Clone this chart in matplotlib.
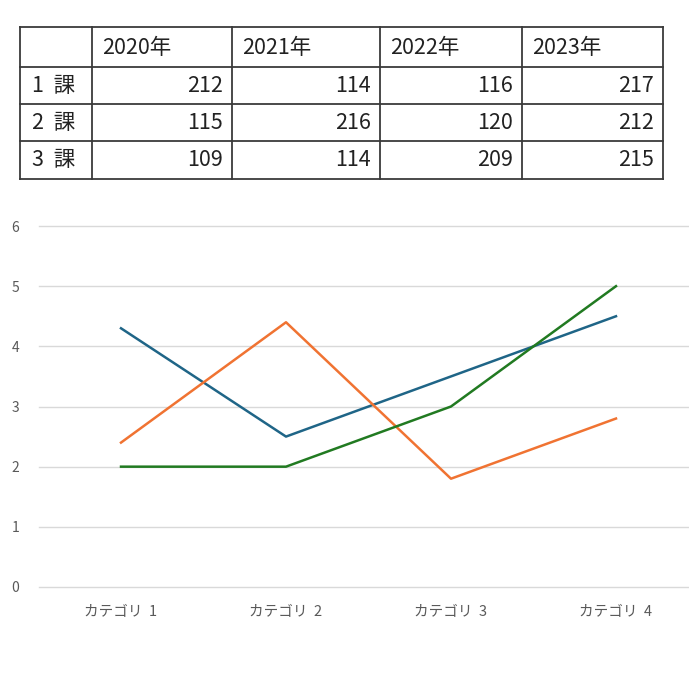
import numpy as np
import matplotlib.pyplot as plt

plt.rcParams['font.family'] = ['Noto Sans CJK JP', 'DejaVu Sans']

# table data
years = ['2020年', '2021年', '2022年', '2023年']
sections = ['1 課', '2 課', '3 課']
table_values = [[212, 114, 116, 217],
                [115, 216, 120, 212],
                [109, 114, 209, 215]]

# chart data
categories = ['カテゴリ 1', 'カテゴリ 2', 'カテゴリ 3', 'カテゴリ 4']
series1 = [4.3, 2.5, 3.5, 4.5]
series2 = [2.4, 4.4, 1.8, 2.8]
series3 = [2, 2, 3, 5]

W, H = 689, 685
fig = plt.figure(figsize=(W / 100, H / 100), dpi=100)

# table drawn in pixel space
tax = fig.add_axes([0, 0, 1, 1])
tax.set_xlim(0, W)
tax.set_ylim(H, 0)
tax.axis('off')
col_edges = [20, 92, 232, 380, 522, 663]
row_edges = [27, 67, 104, 141, 179]
lc = '#3a3a3a'
for x in col_edges:
    tax.plot([x, x], [row_edges[0], row_edges[-1]], color=lc, lw=1.3)
for y in row_edges:
    tax.plot([col_edges[0], col_edges[-1]], [y, y], color=lc, lw=1.3)
fs = 15.5
tc = '#222222'
for j, yr in enumerate(years):
    tax.text(col_edges[j + 1] + 10, (row_edges[0] + row_edges[1]) / 2 + 1, yr,
             ha='left', va='center', fontsize=fs, color=tc)
for i, sec in enumerate(sections):
    yc = (row_edges[i + 1] + row_edges[i + 2]) / 2
    tax.text(col_edges[0] + 12, yc, sec.replace(' ', '  '), ha='left', va='center',
             fontsize=fs, color=tc)
    for j, v in enumerate(table_values[i]):
        tax.text(col_edges[j + 2] - 9, yc, str(v), ha='right', va='center',
                 fontsize=fs, color=tc)

# line chart
ax = fig.add_axes([38.5 / W, 98 / H, (W - 38.5) / W, 361 / H])
x = np.arange(1, 5)
ax.plot(x, series1, color='#1f6587', lw=1.8)
ax.plot(x, series2, color='#f07332', lw=1.8)
ax.plot(x, series3, color='#217a21', lw=1.8)
ax.set_xlim(0.5, 0.5 + (W - 38.5) / 165)
ax.set_ylim(0, 6)
ax.set_yticks(range(7))
ax.set_xticks(x)
ax.set_xticklabels([c.replace(' ', '  ') for c in categories])
ax.grid(axis='y', color='#d9d9d9', lw=1)
for gl in ax.get_ygridlines():
    gl.set_clip_on(False)
ax.set_axisbelow(True)
for s in ax.spines.values():
    s.set_visible(False)
ax.tick_params(length=0, colors='#595959', labelsize=10.5)
ax.tick_params(axis='y', pad=14, labelsize=10)
ax.tick_params(axis='x', pad=12)

fig.savefig('out.png', dpi=100)
